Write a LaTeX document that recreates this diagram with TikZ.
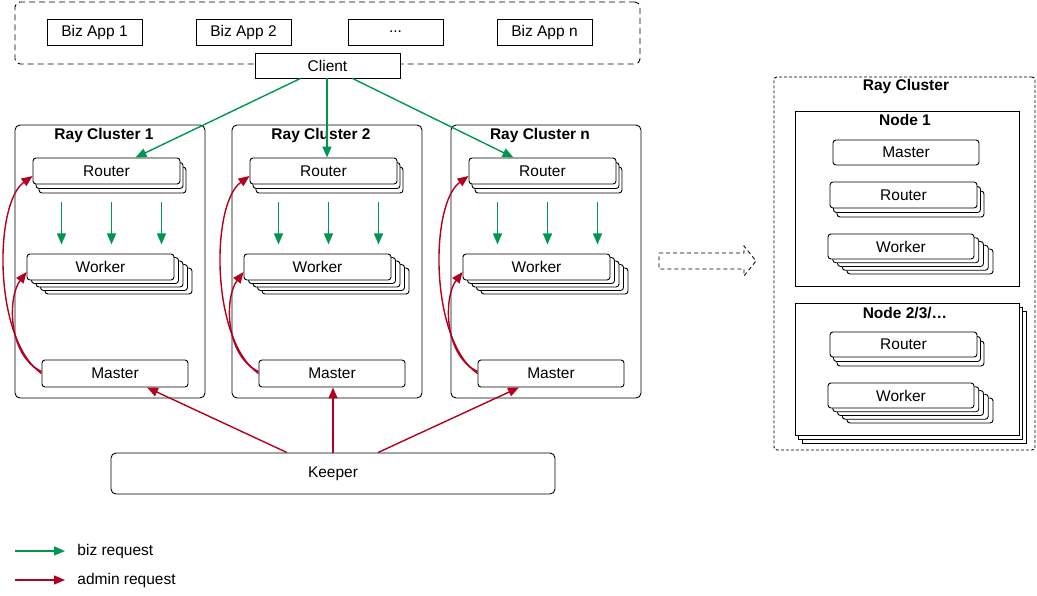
\documentclass[tikz,border=0pt]{standalone}
\usepackage{fontspec}
\setmainfont{Liberation Sans}
\usetikzlibrary{arrows.meta}
\definecolor{bizc}{RGB}{0,150,80}
\definecolor{admc}{RGB}{178,0,32}
% style, name, x1, y1, x2, y2, text
\newcommand\rbox[7]{\node[#1, minimum width={(#5)-(#3)}, minimum height={(#6)-(#4)}] (#2) at ({((#3)+(#5))/2},{((#4)+(#6))/2}) {#7};}
% x1 y1 x2 y2 n dx dy corner
\newcommand\backs[8]{\foreach \k in {#5,...,1}{\draw[fill=white, rounded corners=#8] ({(#1)+(#6)*\k},{(#2)+(#7)*\k}) rectangle ({(#3)+(#6)*\k},{(#4)+(#7)*\k});}}
\begin{document}
\begin{tikzpicture}[x=1pt,y=-1pt, line width=0.9pt,
  font=\fontsize{15.5}{18}\selectfont,
  box/.style={draw, fill=white, inner sep=0pt, align=center},
  rbx/.style={box, rounded corners=3pt},
  cluster/.style={draw, inner sep=0pt, rounded corners=5pt},
  title/.style={inner sep=0pt, font=\fontsize{15.5}{18}\selectfont\bfseries},
  dashbox/.style={draw, inner sep=0pt, dash pattern=on 6pt off 4pt},
  biz/.style={draw=bizc, line width=1.4pt, -{Triangle[length=11pt,width=9pt]}},
  adm/.style={draw=admc, line width=1.4pt, -{Triangle[length=11pt,width=9pt]}},
  lbl/.style={inner sep=0pt, anchor=west}]
\useasboundingbox (0,0) rectangle (1037,595);

% top area
\rbox{dashbox, rounded corners=5pt}{apps}{15}{2}{640}{64}{}
\rbox{box}{a1}{47}{19}{142}{45}{Biz App 1}
\rbox{box}{a2}{196}{19}{291}{45}{Biz App 2}
\rbox{box}{a3}{348}{19}{443}{45}{...}
\rbox{box}{a4}{497}{19}{592}{45}{Biz App n}
\rbox{box}{client}{255}{53}{400}{78}{Client}

% clusters
\foreach \o/\i/\t in {0/1/1, 217/2/2, 436/3/n}{
  \rbox{cluster}{c\i}{15+\o}{125}{205+\o}{398}{}
  \node[title] (ct\i) at (104+\o,135) {Ray Cluster \t};
  \backs{33+\o}{158}{180+\o}{184}{2}{3}{4.5}{3pt}
  \rbox{rbx}{r\i}{33+\o}{158}{180+\o}{184}{Router}
  \backs{27+\o}{254}{174+\o}{280}{4}{4.5}{3.5}{3pt}
  \rbox{rbx}{w\i}{27+\o}{254}{174+\o}{280}{Worker}
  \rbox{rbx}{m\i}{42+\o}{360}{188+\o}{387}{Master}
  \foreach \d in {-45,5,55}{
    \draw[biz] ([xshift=\d pt,yshift=-18pt]r\i.south) -- ++(0,42);
  }
  \draw[adm] (m\i.west) .. controls +(-48,-33) and +(-39,28) .. ([yshift=-5pt]r\i.west);
  \draw[adm] ([yshift=2pt]m\i.west) .. controls +(-34,-16) and +(-19,25) .. ([yshift=-5pt]w\i.west);
}

% client -> routers
\draw[biz] ([xshift=-27pt]client.south) -- ([xshift=29pt]r1.north);
\draw[biz] ([xshift=-0.5pt]client.south) -- ([xshift=-0.5pt]client.south |- r2.north);
\draw[biz] ([xshift=25pt]client.south) -- ([xshift=-29pt]r3.north);

% keeper
\rbox{cluster}{keeper}{111}{453}{555}{494}{Keeper}
\draw[adm] ([xshift=-46pt]keeper.north) -- ([xshift=32pt]m1.south);
\draw[adm] (keeper.north) -- (keeper.north |- m2.south);
\draw[adm] ([xshift=45pt]keeper.north) -- ([xshift=-32pt]m3.south);

% dashed block arrow
\draw[dash pattern=on 4pt off 3pt, line width=0.8pt] (659,253) -- (744,253) -- (744,246) -- (756,261) -- (744,276) -- (744,269) -- (659,269) -- cycle;

% right side
\rbox{dashbox, rounded corners=3pt, dash pattern=on 3pt off 2pt}{rc}{774}{77}{1035}{450}{}
\node[title] (rct) at (906,86) {Ray Cluster};
\rbox{box}{n1}{795}{111}{1019}{286}{}
\node[title] (n1t) at (905,120) {Node 1};
\rbox{rbx}{nm}{833}{140}{979}{165}{Master}
\backs{830}{182}{977}{208}{2}{3.5}{4.5}{3pt}
\rbox{rbx}{nr1}{830}{182}{977}{208}{Router}
\backs{828}{234}{974}{259}{4}{4.75}{3.75}{3pt}
\rbox{rbx}{nw1}{828}{234}{974}{259}{Worker}

\backs{795}{303}{1019}{435}{2}{3.5}{4}{0pt}
\rbox{box}{n2}{795}{303}{1019}{435}{}
\node[title] (n2t) at (905,313) {Node 2/3/…};
\backs{830}{332}{977}{357}{2}{3.5}{4.5}{3pt}
\rbox{rbx}{nr2}{830}{332}{977}{357}{Router}
\backs{828}{383}{974}{408}{4}{4.75}{3.75}{3pt}
\rbox{rbx}{nw2}{828}{383}{974}{408}{Worker}

% legend
\coordinate (lg1a) at (15,551); \coordinate (lg1b) at (65,551);
\coordinate (lg2a) at (15,580); \coordinate (lg2b) at (65,580);
\draw[biz] (lg1a) -- (lg1b);
\draw[adm] (lg2a) -- (lg2b);
\node[lbl] (lt1) at (77,551) {biz request};
\node[lbl] (lt2) at (77,580) {admin request};
\end{tikzpicture}
\end{document}
